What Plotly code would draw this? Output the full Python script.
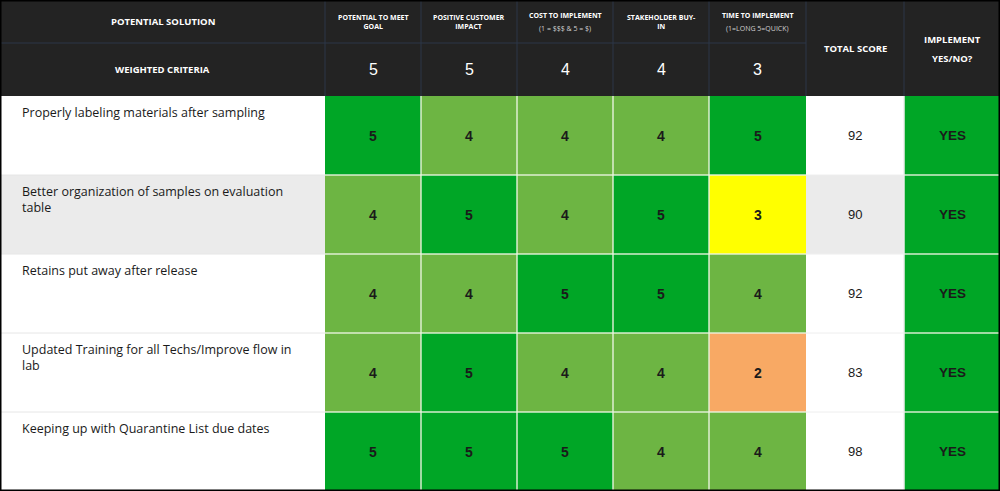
import numpy as np
import plotly.graph_objects as go

# ---------------------------------------------------------------------------
# Data
# ---------------------------------------------------------------------------
solutions = [
    "Properly labeling materials after sampling",
    "Better organization of samples on evaluation<br>table",
    "Retains put away after release",
    "Updated Training for all Techs/Improve flow in<br>lab",
    "Keeping up with Quarantine List due dates",
]
criteria = [
    "POTENTIAL TO MEET<br>GOAL",
    "POSITIVE CUSTOMER<br>IMPACT",
    "COST TO IMPLEMENT",
    "STAKEHOLDER BUY-<br>IN",
    "TIME TO IMPLEMENT",
]
criteria_notes = ["", "", "(1 = $$$ & 5 = $)", "", "(1=LONG 5=QUICK)"]
weights = [5, 5, 4, 4, 3]
scores = [
    [5, 4, 4, 4, 5],
    [4, 5, 4, 5, 3],
    [4, 4, 5, 5, 4],
    [4, 5, 4, 4, 2],
    [5, 5, 5, 4, 4],
]
totals = [92, 90, 92, 83, 98]
implement = ["YES", "YES", "YES", "YES", "YES"]
highlight_row = 1  # grey row in the source

# ---------------------------------------------------------------------------
# Layout / style
# ---------------------------------------------------------------------------
col_widths = [325, 96, 96, 96, 96, 97, 98, 96]
header_heights = [43, 53]
row_height = 79

x_edges = np.concatenate([[0], np.cumsum(col_widths)])
y_edges = np.concatenate([[0], np.cumsum(header_heights + [row_height] * len(solutions))])
W, H = x_edges[-1], y_edges[-1]

HEADER = "#232323"
palette = ["#ffffff", "#ebebeb", HEADER, "#f8a964", "#ffff00", "#6db543", "#00a626"]
score_code = {2: 3, 3: 4, 4: 5, 5: 6}
colorscale = []
for i, c in enumerate(palette):
    colorscale += [[i / len(palette), c], [(i + 1) / len(palette), c]]

HEAD_FONT = "Open Sans"
NUM_FONT = "Liberation Sans, Arial"

# ---------------------------------------------------------------------------
# Cell colour codes
# ---------------------------------------------------------------------------
z = [[2] * len(col_widths) for _ in header_heights]
for r, row in enumerate(scores):
    base = 1 if r == highlight_row else 0
    z.append([base] + [score_code[s] for s in row] + [base, 6 if implement[r] == "YES" else 3])

fig = go.Figure(go.Heatmap(
    z=z, x=x_edges, y=y_edges,
    colorscale=colorscale, zmin=0, zmax=len(palette),
    showscale=False, hoverinfo="skip",
))

xc = (x_edges[:-1] + x_edges[1:]) / 2
yc = (y_edges[:-1] + y_edges[1:]) / 2

ann = []


def add(x, y, text, size, color="#1a1a1a", font=NUM_FONT, xanchor="center", yanchor="middle", align="center"):
    ann.append(dict(x=x, y=y, text=text, showarrow=False, xanchor=xanchor, yanchor=yanchor,
                    align=align, font=dict(family=font, size=size, color=color)))


# header texts
add(xc[0], yc[0], "<b>POTENTIAL SOLUTION</b>", 9.5, "white", HEAD_FONT)
add(xc[0], yc[1], "<b>WEIGHTED CRITERIA</b>", 9.5, "white", HEAD_FONT)
for i, (name, note, w) in enumerate(zip(criteria, criteria_notes, weights)):
    c = i + 1
    if note:
        add(xc[c], yc[0] - 6, f"<b>{name}</b>", 7, "white", HEAD_FONT)
        add(xc[c], yc[0] + 7, note, 7, "#cfcfcf", HEAD_FONT)
    else:
        add(xc[c], yc[0], f"<b>{name}</b>", 7, "white", HEAD_FONT)
    add(xc[c], yc[1], str(w), 16, "white")
head_mid = y_edges[2] / 2
add(xc[6], head_mid, "<b>TOTAL SCORE</b>", 9.5, "white", HEAD_FONT)
add(xc[7], head_mid - 9, "<b>IMPLEMENT</b>", 9.5, "white", HEAD_FONT)
add(xc[7], head_mid + 10, "<b>YES/NO?</b>", 9.5, "white", HEAD_FONT)

# body texts
for r, sol in enumerate(solutions):
    rr = r + 2
    add(20, y_edges[rr] + 6, sol, 12.5, "#1a1a1a", HEAD_FONT, xanchor="left", yanchor="top", align="left")
    for i, s in enumerate(scores[r]):
        add(xc[i + 1], yc[rr], f"<b>{s}</b>", 14)
    add(xc[6], yc[rr], str(totals[r]), 13)
    add(xc[7], yc[rr], f"<b>{implement[r]}</b>", 13.5)

# grid lines
shapes = []
HEAD_LINE = "#2c3648"
BODY_LINE = "rgba(235,245,225,0.9)"
shapes.append(dict(type="line", x0=0, x1=x_edges[6], y0=y_edges[1], y1=y_edges[1],
                   line=dict(color=HEAD_LINE, width=1)))
for c in range(1, 8):
    shapes.append(dict(type="line", x0=x_edges[c], x1=x_edges[c], y0=0, y1=y_edges[2],
                       line=dict(color=HEAD_LINE, width=1)))
for r in range(3, len(y_edges) - 1):
    shapes.append(dict(type="line", x0=0, x1=x_edges[1], y0=y_edges[r], y1=y_edges[r],
                       line=dict(color="#e6e6e6", width=1)))
    shapes.append(dict(type="line", x0=x_edges[1], x1=x_edges[6], y0=y_edges[r], y1=y_edges[r],
                       line=dict(color=BODY_LINE, width=1.5)))
    shapes.append(dict(type="line", x0=x_edges[6], x1=x_edges[7], y0=y_edges[r], y1=y_edges[r],
                       line=dict(color="#eeeeee", width=1)))
    shapes.append(dict(type="line", x0=x_edges[7], x1=W, y0=y_edges[r], y1=y_edges[r],
                       line=dict(color=BODY_LINE, width=1.5)))
for c in [2, 3, 4, 5, 7]:
    shapes.append(dict(type="line", x0=x_edges[c], x1=x_edges[c], y0=y_edges[2], y1=H,
                       line=dict(color=BODY_LINE if c != 7 else "#eeeeee", width=1.5)))
# outer border
shapes.append(dict(type="rect", xref="paper", yref="paper", x0=0, x1=1, y0=0, y1=1,
                   line=dict(color="black", width=3)))

fig.update_layout(
    width=1000, height=491,
    margin=dict(l=0, r=0, t=0, b=0),
    paper_bgcolor="white", plot_bgcolor="white",
    xaxis=dict(range=[0, W], visible=False, fixedrange=True),
    yaxis=dict(range=[H, 0], visible=False, fixedrange=True),
    annotations=ann, shapes=shapes,
)

# page body has a default margin; drop it so the table sits at the window origin
fig.write_html("out.html", config={"displayModeBar": False},
               post_script="document.body.style.margin='0';")
